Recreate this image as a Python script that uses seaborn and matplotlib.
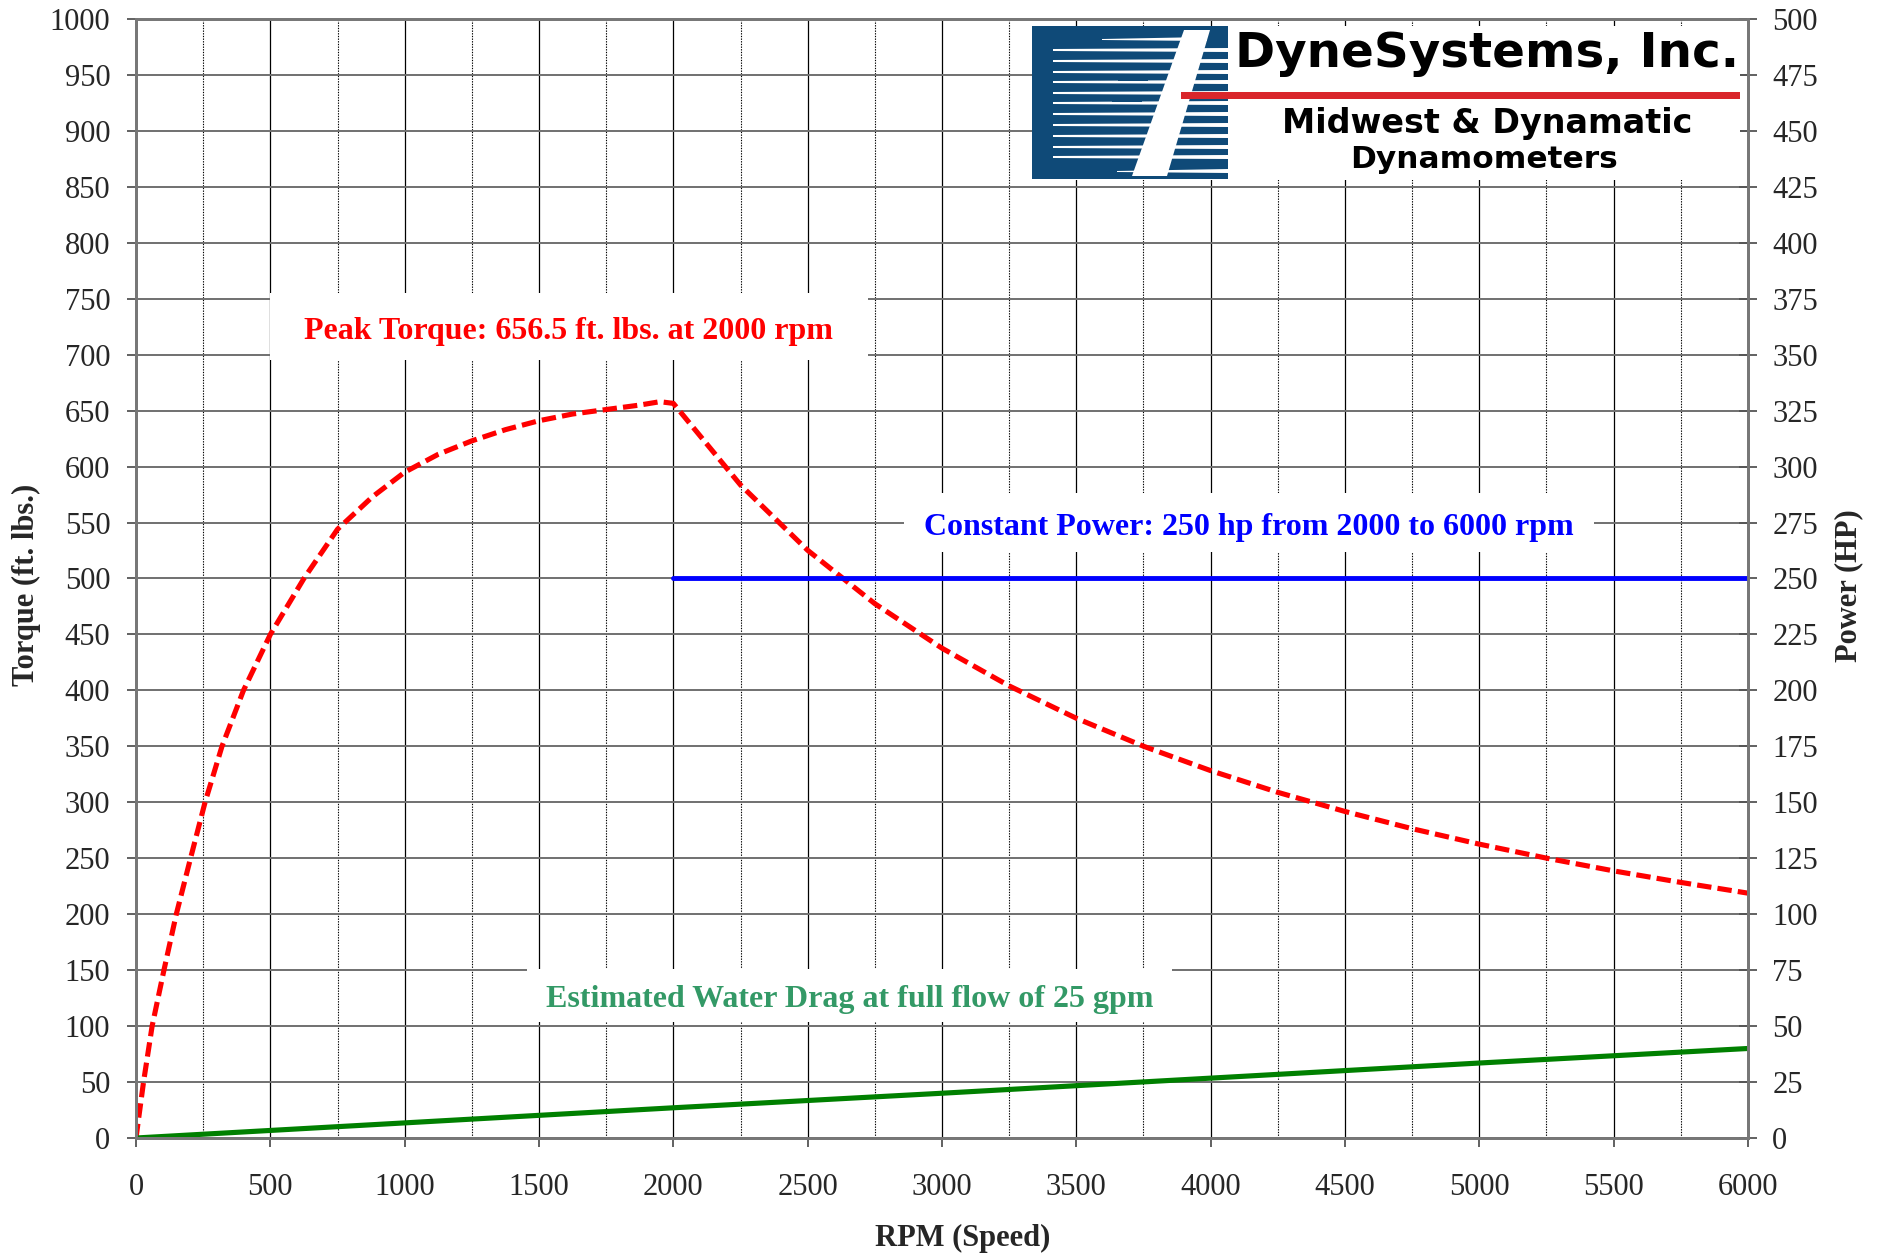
import numpy as np
import pandas as pd
import seaborn as sns
import matplotlib.pyplot as plt
from matplotlib.patches import Rectangle, Polygon
from matplotlib.ticker import MultipleLocator

# torque curve (ft. lbs.)
torque_rpm = [0, 28, 60, 104, 150, 203, 257, 320, 400, 500, 625, 750, 880, 1000, 1125,
              1250, 1375, 1500, 1625, 1750, 1875, 1950, 2000, 2250, 2500, 2750, 3000,
              3250, 3500, 3750, 4000, 4250, 4500, 4750, 5000, 5250, 5500, 5750, 6000]
torque_val = [0, 50, 100, 150, 200, 250, 300, 350, 400, 450, 500, 544, 573, 595, 611,
              623, 633, 641, 647, 651, 655, 658, 656.5, 583.6, 525.2, 477.5, 437.7,
              404.0, 375.1, 350.1, 328.3, 308.9, 291.8, 276.4, 262.6, 250.1, 238.7, 228.4, 218.8]

# constant power line (hp, right axis)
power_rpm = [2000, 6000]
power_val = [250, 250]

# water drag (left axis)
drag_rpm = [0, 1000, 2000, 3000, 4000, 5000, 6000]
drag_val = [0, 13.5, 27, 40, 53.5, 67, 80]

torque_df = pd.DataFrame({"rpm": torque_rpm, "torque": torque_val})
power_df = pd.DataFrame({"rpm": power_rpm, "hp": power_val})
drag_df = pd.DataFrame({"rpm": drag_rpm, "drag": drag_val})

sns.set_style("white")
plt.rcParams["font.family"] = ["Liberation Serif", "DejaVu Serif"]

fig = plt.figure(figsize=(18.85, 12.55), dpi=100)
ax = fig.add_axes([0.07215, 0.09323, 0.85517, 0.89163])

# grid
ax.set_axisbelow(True)
ax.xaxis.set_major_locator(MultipleLocator(500))
ax.xaxis.set_minor_locator(MultipleLocator(250))
ax.yaxis.set_major_locator(MultipleLocator(50))
ax.grid(axis="y", which="major", color="#707070", lw=1.4)
ax.grid(axis="x", which="major", color="black", lw=0.9)
ax.grid(axis="x", which="minor", color="black", lw=0.8, linestyle=(0, (1.2, 1.2)))

# white boxes behind the notes (center x, center y, width, height in data units)
notes = [
    ("Peak Torque: 656.5 ft. lbs. at 2000 rpm", "#ff0000", 1611, 725, 2224, 60),
    ("Constant Power: 250 hp from 2000 to 6000 rpm", "#0000ff", 4143, 550, 2566, 53),
    ("Estimated Water Drag at full flow of 25 gpm", "#339966", 2655, 127.5, 2399, 47),
]
for label, col, cx, cy, w, h in notes:
    ax.add_patch(Rectangle((cx - w / 2, cy - h / 2), w, h, facecolor="white",
                           edgecolor="none", zorder=1))
    ax.text(cx, cy - 4, label, color=col, fontsize=23, fontweight="bold",
            ha="center", va="center", zorder=3)

sns.lineplot(data=torque_df, x="rpm", y="torque", ax=ax, color="#ff0000", lw=3.7,
             linestyle=(0, (2.8, 1.2)), zorder=2)
sns.lineplot(data=drag_df, x="rpm", y="drag", ax=ax, color="#008000", lw=3.7, zorder=2)

ax2 = ax.twinx()
sns.lineplot(data=power_df, x="rpm", y="hp", ax=ax2, color="#0000ff", lw=3.5,
             solid_capstyle="round")

ax.set_xlim(0, 6000)
ax.set_ylim(0, 1000)
ax2.set_ylim(0, 500)
ax2.yaxis.set_major_locator(MultipleLocator(25))

for a in (ax, ax2):
    for sp in a.spines.values():
        sp.set_color("#777777")
        sp.set_linewidth(2)

ax.tick_params(axis="x", which="major", direction="out", length=6.5, width=1.3,
               color="#555555", labelsize=22, pad=18.5, bottom=True)
ax.tick_params(axis="x", which="minor", length=0)
ax.tick_params(axis="y", which="major", direction="out", length=6.5, width=1.3,
               color="#555555", labelsize=22, pad=12, left=True)
ax2.tick_params(axis="y", which="major", direction="inout", length=13, width=1.3,
                color="#555555", labelsize=22, pad=11, right=True)

ax.set_xlabel("RPM (Speed)", fontsize=22, fontweight="bold")
ax.set_ylabel("Torque (ft. lbs.)", fontsize=22, fontweight="bold")
ax2.set_ylabel("Power (HP)", fontsize=22, fontweight="bold")
ax.xaxis.set_label_coords(0.5127, -0.0772)
ax.yaxis.set_label_coords(-0.059, 0.494)
ax2.yaxis.set_label_coords(1.0534, 0.494)

# company logo, drawn in a small pixel-space axes
lg = fig.add_axes([1032 / 1885, 1 - 180 / 1255, 708 / 1885, 154 / 1255])
lg.set_xlim(0, 708)
lg.set_ylim(154, 0)
lg.set_xticks([])
lg.set_yticks([])
for sp in lg.spines.values():
    sp.set_visible(False)
lg.set_facecolor("white")
navy = "#0f4a78"
lg.add_patch(Rectangle((0, 0), 196, 153, facecolor=navy, edgecolor="none"))
for y0 in [24, 35, 46, 56, 67, 77, 88, 99, 110, 121, 131]:
    lg.add_patch(Polygon([(21, y0 - 1), (196, y0 - 2), (196, y0 + 2), (21, y0 + 1)],
                         closed=True, facecolor="white", edgecolor="none"))
lg.add_patch(Polygon([(70, 13), (175, 11), (175, 15), (70, 14)], closed=True,
                     facecolor="white", edgecolor="none"))
lg.add_patch(Polygon([(85, 145), (196, 143), (196, 147), (85, 146)], closed=True,
                     facecolor="white", edgecolor="none"))
lg.add_patch(Polygon([(152, 4), (178, 4), (135, 150), (100, 150)], closed=True,
                     facecolor="white", edgecolor="none"))
for y0 in [24, 46, 67, 88, 110, 131]:
    lg.add_patch(Rectangle((100 - y0 * 0.3, y0 + 3), 30, 6, facecolor=navy, edgecolor="none"))
lg.add_patch(Rectangle((149, 66), 559, 7, facecolor="#d9262b", edgecolor="none"))
lg.text(203, 41, "DyneSystems, Inc.", fontsize=34.8, fontweight="bold", family="DejaVu Sans",
        ha="left", va="baseline", color="black")
lg.text(455, 107, "Midwest & Dynamatic", fontsize=24, fontweight="bold",
        family="DejaVu Sans", ha="center", va="baseline", color="black")
lg.text(452, 142, "Dynamometers", fontsize=22.5, fontweight="bold",
        family="DejaVu Sans", ha="center", va="baseline", color="black")

fig.savefig("out.png", dpi=100)
